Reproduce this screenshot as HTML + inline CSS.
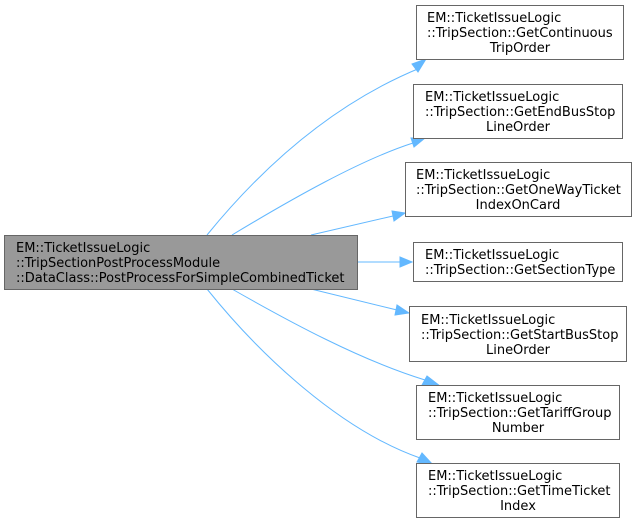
<!DOCTYPE html>
<html><head><meta charset="utf-8"><style>
html,body{margin:0;padding:0;background:#fff;}
svg{display:block;}
text{font-family:"DejaVu Sans","Liberation Sans",sans-serif;font-size:13px;fill:#000;}
.n{fill:#fff;stroke:#666;stroke-width:1;}
.e{fill:none;stroke:#63b8ff;stroke-width:1;}
.a{fill:#63b8ff;stroke:#63b8ff;}
</style></head><body>
<svg width="636" height="524" viewBox="0 0 636 524">
<path class="e" d="M207,235 C260,170 330,105 420,68"/>
<polygon class="a" points="426,59 412,64 418,72"/>
<path class="e" d="M232,235 C290,200 360,160 413,143"/>
<polygon class="a" points="425,138 411,138 414,147"/>
<path class="e" d="M311,235 L393,216"/>
<polygon class="a" points="405,213 392,211 394,221"/>
<path class="e" d="M357,262 L400,262"/>
<polygon class="a" points="412,262 400,257 400,267"/>
<path class="e" d="M311,289 L397,310"/>
<polygon class="a" points="409,313 397,305 395,315"/>
<path class="e" d="M232,289 C290,322 360,360 425,380"/>
<polygon class="a" points="440,386 427,376 422,385"/>
<path class="e" d="M207,289 C260,355 340,430 420,458"/>
<polygon class="a" points="433,465 422,453 417,462"/>
<rect x="4.5" y="235.5" width="353" height="54" fill="#999" stroke="#666"/>
<text x="16" y="252">EM::TicketIssueLogic</text>
<text x="16" y="267">::TripSectionPostProcessModule</text>
<text x="16" y="282">::DataClass::PostProcessForSimpleCombinedTicket</text>
<rect class="n" x="416.5" y="5.5" width="207" height="54"/>
<text x="427" y="22">EM::TicketIssueLogic</text>
<text x="427" y="37">::TripSection::GetContinuous</text>
<text x="520" y="52" text-anchor="middle">TripOrder</text>
<rect class="n" x="413.5" y="84.5" width="209" height="54"/>
<text x="425" y="101">EM::TicketIssueLogic</text>
<text x="425" y="116">::TripSection::GetEndBusStop</text>
<text x="518" y="131" text-anchor="middle">LineOrder</text>
<rect class="n" x="405.5" y="162.5" width="226" height="54"/>
<text x="416" y="179">EM::TicketIssueLogic</text>
<text x="416" y="194">::TripSection::GetOneWayTicket</text>
<text x="518" y="209" text-anchor="middle">IndexOnCard</text>
<rect class="n" x="413.5" y="242.5" width="209" height="39"/>
<text x="425" y="259">EM::TicketIssueLogic</text>
<text x="425" y="274">::TripSection::GetSectionType</text>
<rect class="n" x="409.5" y="306.5" width="217" height="55"/>
<text x="421" y="324">EM::TicketIssueLogic</text>
<text x="421" y="339">::TripSection::GetStartBusStop</text>
<text x="518" y="354" text-anchor="middle">LineOrder</text>
<rect class="n" x="416.5" y="385.5" width="203" height="54"/>
<text x="428" y="402">EM::TicketIssueLogic</text>
<text x="428" y="417">::TripSection::GetTariffGroup</text>
<text x="518" y="432" text-anchor="middle">Number</text>
<rect class="n" x="416.5" y="463.5" width="203" height="54"/>
<text x="428" y="480">EM::TicketIssueLogic</text>
<text x="428" y="495">::TripSection::GetTimeTicket</text>
<text x="518" y="510" text-anchor="middle">Index</text>
</svg>
</body></html>
